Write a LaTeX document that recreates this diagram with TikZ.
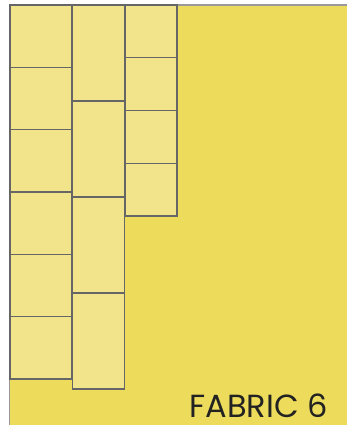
\documentclass[tikz,border=0pt]{standalone}
\usepackage{fontspec}
\newfontfamily\labelfont{Poppins}
\definecolor{bgyel}{HTML}{EDDC5B}
\definecolor{tileyel}{HTML}{F1E48A}
\definecolor{edgegray}{HTML}{666666}
\definecolor{outergray}{HTML}{999999}
\definecolor{textdark}{HTML}{222222}
\tikzset{
  tile/.style={draw=edgegray, fill=tileyel, line width=1.2pt},
}
\begin{document}
\begin{tikzpicture}[x=1pt,y=-1pt]
\useasboundingbox (0,0) rectangle (347,425);
\fill[white] (0,0) rectangle (347,425);
\fill[bgyel] (9.5,5) rectangle (347,425);
\draw[outergray, line width=1.3pt] (9.5,425) -- (9.5,5) -- (347,5);
% column 1
\foreach \i in {0,...,5} {
  \draw[tile] (10,{5+62.33*\i}) rectangle (71.5,{5+62.33*(\i+1)});
}
% column 2
\foreach \i in {0,...,3} {
  \draw[tile] (72.3,{5+96*\i}) rectangle (124.4,{5+96*(\i+1)});
}
% column 3
\foreach \i in {0,...,3} {
  \draw[tile] (125.2,{5+52.75*\i}) rectangle (177,{5+52.75*(\i+1)});
}
\node[anchor=base east, inner sep=0pt, text depth=0pt, text=textdark, font=\labelfont\fontsize{32}{32}\selectfont] (lbl) at (328,417) {FABRIC 6};
\end{tikzpicture}
\end{document}
